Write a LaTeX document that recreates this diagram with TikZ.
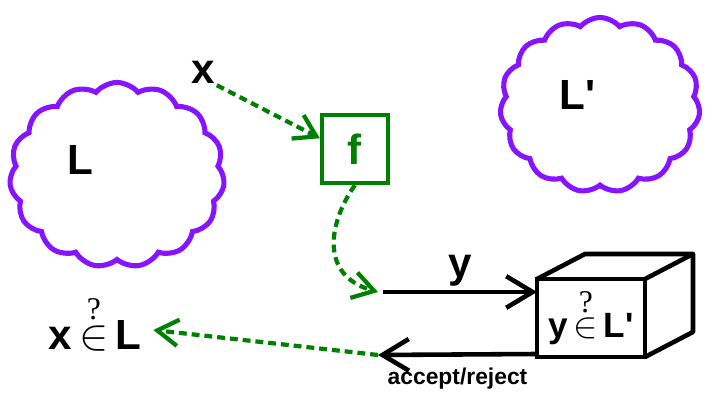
\documentclass[tikz,border=0pt]{standalone}
\usepackage{fontspec}
\setmainfont{Liberation Sans}
\newfontfamily\qfont{Liberation Serif}
\usetikzlibrary{arrows.meta, shapes.symbols, positioning, calc}
\definecolor{cpurp}{RGB}{135, 20,255}
\definecolor{dgrn} {RGB}{  0,128,  0}
% membership query symbol
\newcommand{\qin}{\shortstack{{\qfont\mdseries\fontsize{18}{18}\selectfont ?}\\[0pt]$\in$}}
\tikzset{
  % Purple language cloud
  LC/.style={cloud,cloud puffs=15,cloud puff arc=100,draw=cpurp,
             line width=2.9pt,inner sep=0pt,aspect=1.2},
  % Big bold label
  BL/.style={font=\fontsize{24}{28}\selectfont\bfseries,inner sep=1pt},
  % Green reduction box
  FB/.style={rectangle,draw=dgrn,line width=2.4pt,minimum width=1.32cm,
             minimum height=1.36cm,text=dgrn,
             font=\fontsize{24}{28}\selectfont\bfseries},
  % Oracle box front face
  OB/.style={rectangle,draw,line width=2.6pt,minimum width=2.16cm,
             minimum height=1.56cm,inner sep=0pt,outer sep=0pt,
             font=\fontsize{20}{24}\selectfont\bfseries},
  % Arrows
  GArr/.style={-{Straight Barb[length=12pt,width=15pt]},line width=2.4pt,
               color=dgrn,dash pattern=on 4.5pt off 2.8pt},
  KArr/.style={-{Straight Barb[length=15pt,width=18pt]},line width=2.6pt},
}
\begin{document}
\begin{tikzpicture}
  \useasboundingbox (0,0) rectangle (14.26,8);
  % Languages
  \node[LC,minimum width=4.3cm,minimum height=3.7cm] (cL)  at (2.34,4.5) {};
  \node[BL] (lL) at (1.6,4.8) {L};
  \node[LC,minimum width=4.0cm,minimum height=3.5cm] (cLp) at (12.0,5.9) {};
  \node[BL] (lLp) at (11.55,6.1) {L\textquotesingle};
  % Reduction f
  \node[BL] (xl) at (4.06,6.56) {x};
  \node[FB] (f) at (7.10,5.02) {f};
  \draw[GArr] (xl.south east) -- (f.163);
  % Oracle for L'
  \node[OB] (orc) at (11.82,1.64) {y\,\qin\,L\textquotesingle};
  \draw[line width=2.6pt,line join=round]
    (orc.north west) -- ($(orc.north west)+(0.96,0.5)$)
    -- ($(orc.north east)+(0.96,0.5)$) -- ($(orc.south east)+(0.96,0.5)$)
    -- (orc.south east);
  \draw[line width=2.6pt] (orc.north east) -- ++(0.96,0.5);
  % Query y
  \coordinate (yin) at (7.56,2.16);
  \draw[GArr] (f.south) .. controls (6.6,3.6) and (6.35,2.5) .. (yin);
  \draw[KArr] (7.66,2.16) -- ($(orc.north west)+(0,-0.26)$)
    node[BL,midway,above=1pt] (ly) {y};
  % Answer
  \coordinate (ret) at (7.56,0.9);
  \draw[KArr] ($(orc.south west)+(0,0.06)$) -- (ret)
    node[midway,below=3pt,font=\fontsize{13}{15}\selectfont\bfseries]
    (acc) {accept/reject};
  \node[BL] (xq) at (1.9,1.5) {x\,\qin\,L};
  \draw[GArr] (ret) -- ($(xq.east)+(0.2,-0.1)$);
\end{tikzpicture}
\end{document}
